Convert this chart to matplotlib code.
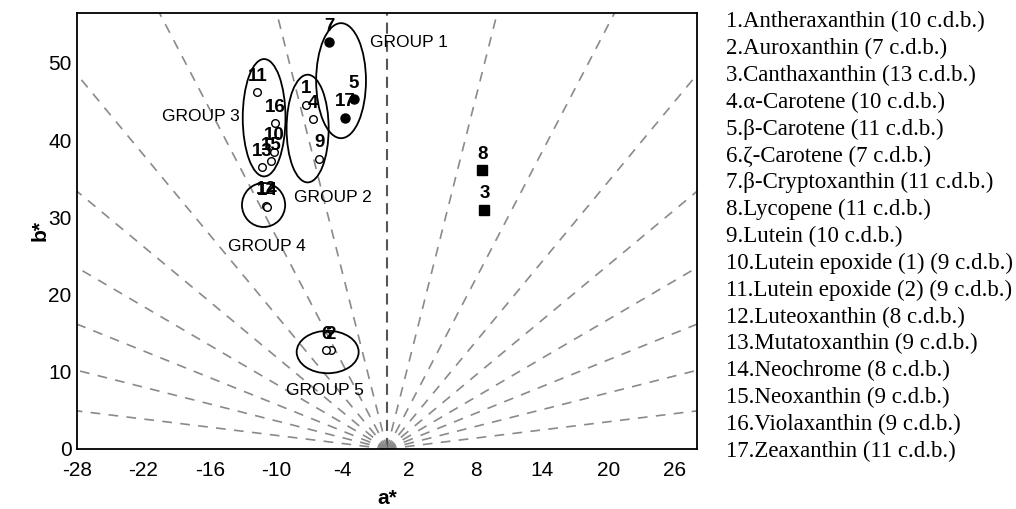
import numpy as np
import matplotlib
matplotlib.use("Agg")
import matplotlib.pyplot as plt
from matplotlib.patches import Ellipse

plt.rcParams['font.family'] = ['Liberation Sans', 'DejaVu Sans']
plt.rcParams['lines.scale_dashes'] = False
plt.rcParams['axes.unicode_minus'] = False

# carotenoid coordinates (a*, b*)
ids = ['1', '2', '3', '4', '5', '6', '7', '8', '9', '10', '11', '12', '13', '14', '15', '16', '17']
a_vals = [-7.3, -5.1, 8.8, -6.7, -3.0, -5.5, -5.2, 8.6, -6.1, -10.2, -11.7, -10.9, -11.3, -10.8, -10.5, -10.1, -3.8]
b_vals = [44.6, 12.8, 31.0, 42.7, 45.3, 12.8, 52.7, 36.1, 37.6, 38.5, 46.2, 31.5, 36.5, 31.4, 37.3, 42.2, 42.9]
# marker kind: o = open circle, f = filled circle, s = filled square
kinds = ['o', 'o', 's', 'o', 'f', 'o', 'f', 's', 'o', 'o', 'o', 'o', 'o', 'o', 'o', 'o', 'f']

names = ['Antheraxanthin (10 c.d.b.)', 'Auroxanthin (7 c.d.b.)', 'Canthaxanthin (13 c.d.b.)',
         'α-Carotene (10 c.d.b.)', 'β-Carotene (11 c.d.b.)', 'ζ-Carotene (7 c.d.b.)',
         'β-Cryptoxanthin (11 c.d.b.)', 'Lycopene (11 c.d.b.)', 'Lutein (10 c.d.b.)',
         'Lutein epoxide (1) (9 c.d.b.)', 'Lutein epoxide (2) (9 c.d.b.)', 'Luteoxanthin (8 c.d.b.)',
         'Mutatoxanthin (9 c.d.b.)', 'Neochrome (8 c.d.b.)', 'Neoxanthin (9 c.d.b.)',
         'Violaxanthin (9 c.d.b.)', 'Zeaxanthin (11 c.d.b.)']

# groups: centre, width, height, label position
group_names = ['GROUP 1', 'GROUP 2', 'GROUP 3', 'GROUP 4', 'GROUP 5']
group_cx = [-4.15, -7.17, -11.1, -11.15, -5.36]
group_cy = [47.7, 41.5, 42.9, 31.6, 12.56]
group_w = [4.5, 3.8, 3.86, 3.9, 5.6]
group_h = [14.9, 13.95, 15.2, 5.7, 5.5]
group_lx = [-1.5, -8.37, -20.3, -14.4, -9.1]
group_ly = [52.6, 32.55, 43.1, 26.2, 7.55]

hue_angles = np.arange(10, 180, 10)

fig = plt.figure(figsize=(10.16, 5.09), dpi=100)
ax = fig.add_axes([0.0758, 0.1179, 0.6102, 0.8571])

# hue angle guide lines from the origin
for ang in hue_angles:
    t = np.deg2rad(ang)
    if ang == 90:
        ax.plot([0, 0], [0, 100], color='#555555', lw=1.5, dashes=(8, 5), zorder=1)
    else:
        ax.plot([0, 100 * np.cos(t)], [0, 100 * np.sin(t)], color='#8a8a8a', lw=1.2,
                dashes=(7, 6), zorder=1)

for k, a, b, lab in zip(kinds, a_vals, b_vals, ids):
    if k == 'o':
        ax.plot(a, b, 'o', mfc='white', mec='black', ms=5.5, mew=1.0, zorder=3)
    elif k == 'f':
        ax.plot(a, b, 'o', color='black', ms=6.5, zorder=3)
    else:
        ax.plot(a, b, 's', color='black', ms=6.5, zorder=3)
    ax.annotate(lab, (a, b), xytext=(0, 11.5), textcoords='offset points',
                ha='center', va='center', fontsize=13.5, fontweight='bold', zorder=4)

for cx, cy, w, h, gn, lx, ly in zip(group_cx, group_cy, group_w, group_h, group_names, group_lx, group_ly):
    ax.add_patch(Ellipse((cx, cy), w, h, fill=False, ec='black', lw=1.3, zorder=2))
    ax.text(lx, ly, gn, fontsize=12.5, ha='left', va='center', zorder=4)

ax.set_xlim(-28, 28)
ax.set_ylim(0, 56.5)
ax.set_xticks(np.arange(-28, 27, 6))
ax.set_yticks(np.arange(0, 51, 10))
ax.tick_params(length=0, labelsize=15)
ax.tick_params(axis='x', pad=9)
ax.tick_params(axis='y', pad=4)
for s in ax.spines.values():
    s.set_linewidth(1.3)
ax.set_xlabel('a*', fontsize=15, fontweight='bold', labelpad=6)
ax.set_ylabel('b*', fontsize=15, fontweight='bold', labelpad=-1)

# compound key on the right
for i, nm in enumerate(names):
    fig.text(0.7146, 1 - (21.7 + 26.85 * i) / 509, f'{i + 1}.{nm}',
             fontsize=16.5, family=['Liberation Serif', 'DejaVu Serif'], ha='left', va='center')

fig.savefig('out.png', dpi=100)
